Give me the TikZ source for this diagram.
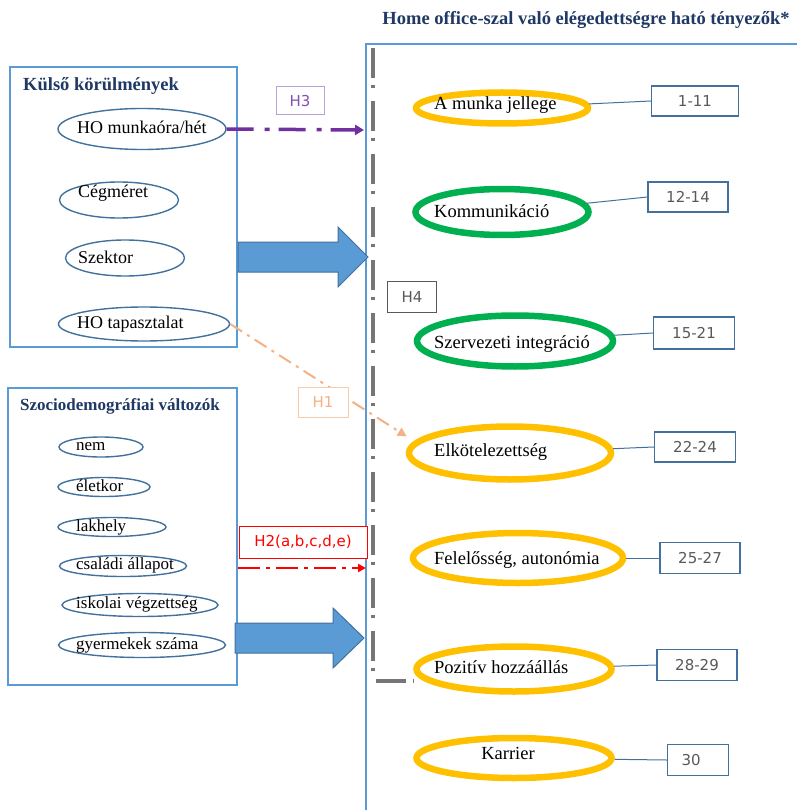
\documentclass[tikz,border=0pt]{standalone}
\usepackage{fontspec}
\setmainfont{Liberation Serif}
\newfontfamily\numfont{DejaVu Sans}
\usetikzlibrary{shapes.geometric,arrows.meta}
\definecolor{navy}{HTML}{1F3864}
\definecolor{boxblue}{HTML}{5B9BD5}
\definecolor{ellblue}{HTML}{41719C}
\definecolor{arrfill}{HTML}{5B9BD5}
\definecolor{orng}{HTML}{FFC000}
\definecolor{grn}{HTML}{00B050}
\definecolor{purp}{HTML}{7030A0}
\definecolor{purplight}{HTML}{B9A0D8}
\definecolor{peach}{HTML}{F4B183}
\definecolor{peachlight}{HTML}{F8CBAD}
\definecolor{numgray}{HTML}{595959}
\definecolor{dashgray}{HTML}{767676}
\begin{document}
\begin{tikzpicture}[x=1pt,y=-1pt,
  lbox/.style={draw=boxblue, line width=1.2pt, inner sep=0pt},
  lell/.style={ellipse, draw=ellblue, line width=1.4pt, inner sep=0pt},
  rell/.style={ellipse, line width=6.5pt, inner sep=0pt},
  ltxtA/.style={inner sep=0pt, anchor=base west, font=\fontsize{18}{20}\selectfont},
  ltxtB/.style={inner sep=0pt, anchor=base west, font=\fontsize{17}{19}\selectfont},
  rtxt/.style={inner sep=0pt, anchor=base west, font=\fontsize{18.5}{21}\selectfont},
  ttl/.style={inner sep=0pt, text=navy, font=\bfseries\fontsize{18.5}{21}\selectfont},
  numbox/.style={draw=ellblue, line width=1.3pt, fill=white, text=numgray, font=\numfont\fontsize{15}{17}\selectfont, minimum height=30pt},
  hbox/.style={fill=white, line width=1pt, font=\numfont\fontsize{15}{17}\selectfont},
  link/.style={draw=ellblue, line width=1pt},
  bigarrow/.style={fill=arrfill, draw=ellblue, line width=1pt, line join=miter}
]
\useasboundingbox (0,0) rectangle (797,810);

% main title
\node[ttl, anchor=base] (title) at (586,25) {Home office-szal való elégedettségre ható tényezők*};

% big right frame
\draw[draw=boxblue, line width=1.2pt] (797,44) -- (366,44) -- (366,810);

% gray dash-dot bracket
\draw[dashgray, line width=3.5pt, dash pattern=on 30pt off 7pt on 3pt off 13pt]
  (373,48) -- (373,681) -- (414,681);

% left box 1
\node[lbox, minimum width=227pt, minimum height=280pt] (box1) at (123.5,207) {};
\node[ttl, anchor=base west] (t1) at (23,91) {Külső körülmények};
\node[lell, minimum width=168pt, minimum height=41pt] (hours) at (142,129) {};
\node[lell, minimum width=119pt, minimum height=36pt] (ceg) at (119,200) {};
\node[lell, minimum width=119pt, minimum height=36pt] (szek) at (125,258) {};
\node[lell, minimum width=171pt, minimum height=34pt] (tap) at (144,324) {};
\node[ltxtA] (thours) at (77,134) {HO munkaóra/hét};
\node[ltxtA] (tceg) at (78,198) {Cégméret};
\node[ltxtA] (tszek) at (78,263) {Szektor};
\node[ltxtA] (ttap) at (77,328) {HO tapasztalat};

% left box 2
\node[lbox, minimum width=229pt, minimum height=297pt] (box2) at (122.5,536.5) {};
\node[ttl, anchor=base west, font=\bfseries\fontsize{17}{19}\selectfont] (t2) at (20,410) {Szociodemográfiai változók};
\node[lell, minimum width=84pt, minimum height=20pt] (nem) at (101,447) {};
\node[lell, minimum width=92pt, minimum height=19pt] (eletkor) at (104,487) {};
\node[lell, minimum width=108pt, minimum height=19pt] (lakhely) at (112,527) {};
\node[lell, minimum width=127pt, minimum height=21pt] (csaladi) at (123,566) {};
\node[lell, minimum width=156pt, minimum height=23pt] (iskolai) at (140,605) {};
\node[lell, minimum width=167pt, minimum height=25pt] (gyerm) at (142,645) {};
\node[ltxtB] (tnem) at (76,450) {nem};
\node[ltxtB] (teletkor) at (76,491) {életkor};
\node[ltxtB] (tlakhely) at (76,531) {lakhely};
\node[ltxtB] (tcsaladi) at (76,569) {családi állapot};
\node[ltxtB] (tiskolai) at (76,608) {iskolai végzettség};
\node[ltxtB] (tgyerm) at (76,649) {gyermekek száma};

% big blue arrows
\draw[bigarrow] (238,242) -- (338,242) -- (338,227) -- (368,257) -- (338,287) -- (338,272) -- (238,272) -- cycle;
\draw[bigarrow] (235,623) -- (333,623) -- (333,608) -- (364,638) -- (333,668) -- (333,653) -- (235,653) -- cycle;

% right ellipses
\node[rell, draw=orng, minimum width=172pt, minimum height=31pt] (munka) at (502,108) {};
\node[rell, draw=grn, minimum width=173pt, minimum height=46pt] (komm) at (502,212) {};
\node[rell, draw=grn, minimum width=196pt, minimum height=51pt] (szerv) at (515,341) {};
\node[rell, draw=orng, minimum width=202pt, minimum height=53pt] (elk) at (510,453) {};
\node[rell, draw=orng, minimum width=210pt, minimum height=50pt] (fel) at (518,558) {};
\node[rell, draw=orng, minimum width=195pt, minimum height=45pt] (poz) at (514,669) {};
\node[rell, draw=orng, minimum width=195pt, minimum height=40pt] (karr) at (514,758) {};
\node[rtxt] (tmunka) at (434,110) {A munka jellege};
\node[rtxt] (tkomm) at (434,218) {Kommunikáció};
\node[rtxt] (tszerv) at (434,348) {Szervezeti integráció};
\node[rtxt] (telk) at (434,456) {Elkötelezettség};
\node[rtxt] (tfel) at (434,564) {Felelősség, autonómia};
\node[rtxt] (tpoz) at (434,673) {Pozitív hozzáállás};
\node[rtxt, anchor=base] (tkarr) at (508,759) {Karrier};

% number boxes
\node[numbox, minimum width=87pt] (n1) at (695,101) {1-11};
\node[numbox, minimum width=80pt] (n2) at (688,197) {12-14};
\node[numbox, minimum width=81pt, minimum height=32pt] (n3) at (694,333) {15-21};
\node[numbox, minimum width=81pt] (n4) at (695,447) {22-24};
\node[numbox, minimum width=80pt, minimum height=31pt] (n5) at (700,558) {25-27};
\node[numbox, minimum width=80pt, minimum height=31pt] (n6) at (697,665) {28-29};
\node[numbox, minimum width=61pt, minimum height=31pt, text width=33pt, align=left] (n7) at (698,760) {30};

\draw[link] (munka) -- (n1.west);
\draw[link] (komm) -- (n2.west);
\draw[link] (szerv) -- (n3.west);
\draw[link] (elk) -- (n4.west);
\draw[link] (fel) -- (n5.west);
\draw[link] (poz) -- (n6.west);
\draw[link] (karr) -- (n7.west);

% hypothesis arrows
\coordinate (h3end) at (364,130);
\draw[purp, line width=3.5pt, dash pattern=on 27pt off 11pt on 5pt off 9pt, -{Triangle[length=9pt,width=10pt]}]
  (hours.east) -- (h3end);
\node[hbox, draw=purplight, text=purp!85, minimum width=48pt, minimum height=28pt] (h3) at (300,101) {H3};

\draw[peach, line width=2pt, dash pattern=on 14pt off 6pt on 3pt off 6pt, shorten >=9pt, -{Triangle[length=9pt,width=9pt]}]
  (tap.east) -- (elk.173);
\node[hbox, draw=peachlight, text=peach, minimum width=50pt, minimum height=30pt] (h1) at (323,402) {H1};

\coordinate (h2start) at (238,568);
\coordinate (h2end) at (366,568);
\draw[red, line width=2.5pt, dash pattern=on 22pt off 6pt on 4pt off 6pt, -{Triangle[length=8pt,width=8pt]}]
  (h2start) -- (h2end);
\node[hbox, draw=red, text=red, minimum width=128pt, minimum height=32pt] (h2) at (303,542) {H2(a,b,c,d,e)};

\node[hbox, draw=numgray, text=numgray, minimum width=49pt, minimum height=31pt] (h4) at (412,297) {H4};

\end{tikzpicture}
\end{document}
